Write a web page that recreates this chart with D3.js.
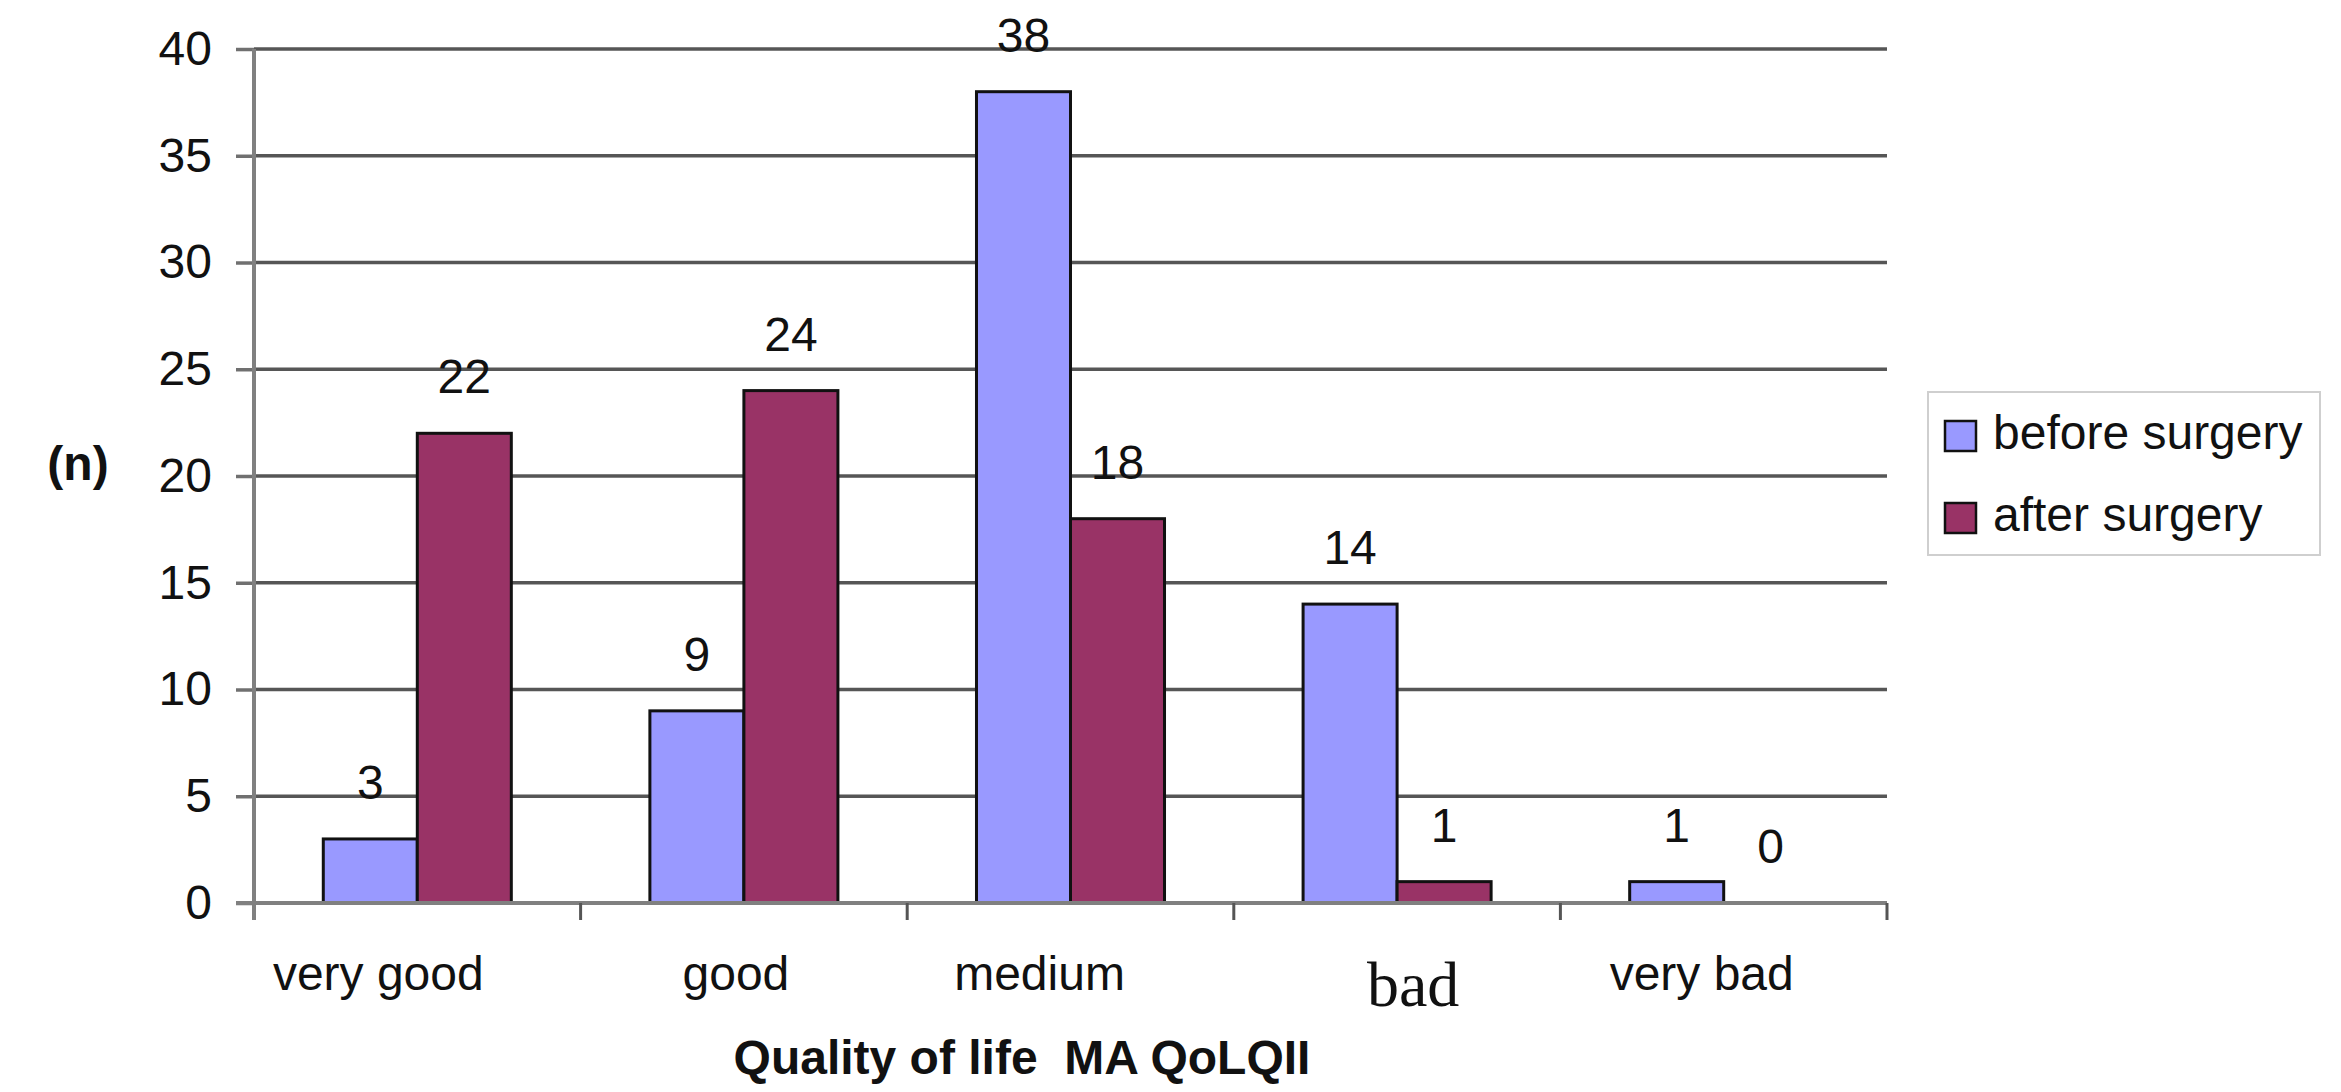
<!DOCTYPE html>
<html>
<head>
<meta charset="utf-8">
<script src="https://cdn.jsdelivr.net/npm/d3@7"></script>
<style>
  body { margin: 0; background: #fff; }
  svg { display: block; font-family: "Liberation Sans", Arial, sans-serif; }
</style>
</head>
<body>
<svg id="chart" width="2341" height="1092"></svg>
<script>
// data
const categories = ["very good", "good", "medium", "bad", "very bad"];
const seriesNames = ["before surgery", "after surgery"];
const beforeSurgery = [3, 9, 38, 14, 1];
const afterSurgery = [22, 24, 18, 1, 0];
const yTicks = [0, 5, 10, 15, 20, 25, 30, 35, 40];

const colors = ["#9999ff", "#993366"];
// small horizontal nudges of the category labels, as in the original figure
const labelNudge = [-39, -8, -31, 16, -22];

const svg = d3.select("#chart");
const plotLeft = 254, plotRight = 1887, plotTop = 49, plotBottom = 903;

const x = d3.scaleBand()
  .domain(categories)
  .range([plotLeft, plotRight])
  .paddingInner(0)
  .paddingOuter(0);

const x1 = d3.scaleBand()
  .domain(seriesNames)
  .range([0, x.bandwidth()])
  .paddingInner(0)
  .paddingOuter(0.737);

const y = d3.scaleLinear()
  .domain([0, 40])
  .range([plotBottom, plotTop]);

const rows = categories.map((c, i) => ({
  cat: c,
  values: [beforeSurgery[i], afterSurgery[i]]
}));

// horizontal grid lines
svg.append("g")
  .selectAll("line")
  .data(yTicks.filter(d => d > 0))
  .enter().append("line")
    .attr("x1", plotLeft)
    .attr("x2", plotRight)
    .attr("y1", d => y(d))
    .attr("y2", d => y(d))
    .attr("stroke", "#565656")
    .attr("stroke-width", 3.5);

// y axis
const yAxis = svg.append("g")
  .attr("transform", `translate(${plotLeft},0)`)
  .call(d3.axisLeft(y).tickValues(yTicks).tickSize(18).tickPadding(24));
yAxis.select(".domain").remove();
yAxis.selectAll(".tick line").attr("stroke", "#707070").attr("stroke-width", 3.5);
yAxis.selectAll(".tick text")
  .attr("font-size", 48)
  .attr("font-family", "Liberation Sans, Arial, sans-serif")
  .attr("fill", "#111");

// bars
const groups = svg.append("g")
  .selectAll("g")
  .data(rows)
  .enter().append("g")
    .attr("transform", d => `translate(${x(d.cat)},0)`);

groups.selectAll("rect")
  .data(d => d.values
    .map((v, j) => ({ key: seriesNames[j], value: v, j: j }))
    .filter(d => d.value > 0))
  .enter().append("rect")
    .attr("x", d => x1(d.key))
    .attr("y", d => y(d.value))
    .attr("width", x1.bandwidth())
    .attr("height", d => y(0) - y(d.value))
    .attr("fill", d => colors[d.j])
    .attr("stroke", "#111")
    .attr("stroke-width", 3);

// value labels
groups.selectAll("text")
  .data(d => d.values.map((v, j) => ({ key: seriesNames[j], value: v })))
  .enter().append("text")
    .attr("x", d => x1(d.key) + x1.bandwidth() / 2)
    .attr("y", d => y(d.value) - 40)
    .attr("text-anchor", "middle")
    .attr("font-size", 48)
    .attr("fill", "#111")
    .text(d => d.value);

// x axis line and boundary ticks
svg.append("line")
  .attr("x1", plotLeft - 18)
  .attr("x2", plotRight)
  .attr("y1", y(0))
  .attr("y2", y(0))
  .attr("stroke", "#808080")
  .attr("stroke-width", 4);

svg.append("line")
  .attr("x1", plotLeft)
  .attr("x2", plotLeft)
  .attr("y1", plotTop)
  .attr("y2", y(0) + 17)
  .attr("stroke", "#808080")
  .attr("stroke-width", 4);

svg.append("g")
  .selectAll("line")
  .data(categories)
  .enter().append("line")
    .attr("x1", d => x(d) + x.bandwidth())
    .attr("x2", d => x(d) + x.bandwidth())
    .attr("y1", y(0))
    .attr("y2", y(0) + 17)
    .attr("stroke", "#555")
    .attr("stroke-width", 3);

// category labels
const xAxis = svg.append("g")
  .attr("transform", `translate(0,${y(0)})`)
  .call(d3.axisBottom(x).tickSize(0).tickPadding(53));
xAxis.select(".domain").remove();
xAxis.selectAll(".tick text")
  .attr("font-size", 48)
  .attr("font-family", "Liberation Sans, Arial, sans-serif")
  .attr("fill", "#111")
  .attr("dx", (d, i) => labelNudge[i]);
xAxis.selectAll(".tick text")
  .filter(d => d === "bad")
  .attr("font-family", "Liberation Serif, Times New Roman, serif")
  .attr("font-size", 64)
  .attr("dy", "0.78em");

// axis titles
svg.append("text")
  .attr("x", 78)
  .attr("y", 480)
  .attr("text-anchor", "middle")
  .attr("font-size", 48)
  .attr("font-weight", "bold")
  .attr("fill", "#111")
  .text("(n)");

svg.append("text")
  .attr("x", 1022)
  .attr("y", 1074)
  .attr("text-anchor", "middle")
  .attr("font-size", 48)
  .attr("font-weight", "bold")
  .attr("fill", "#111")
  .attr("xml:space", "preserve")
  .text("Quality of life  MA QoLQII");

// legend
const legend = svg.append("g").attr("transform", "translate(1928,392)");
legend.append("rect")
  .attr("width", 392)
  .attr("height", 163)
  .attr("fill", "#fff")
  .attr("stroke", "#cfcfcf")
  .attr("stroke-width", 2);

const item = legend.selectAll("g.item")
  .data(seriesNames)
  .enter().append("g")
    .attr("class", "item")
    .attr("transform", (d, i) => `translate(17,${29 + i * 82})`);

item.append("rect")
  .attr("width", 31)
  .attr("height", 30)
  .attr("fill", (d, i) => colors[i])
  .attr("stroke", "#111")
  .attr("stroke-width", 2.5);

item.append("text")
  .attr("x", 48)
  .attr("y", 28)
  .attr("font-size", 48)
  .attr("fill", "#111")
  .text(d => d);
</script>
</body>
</html>
